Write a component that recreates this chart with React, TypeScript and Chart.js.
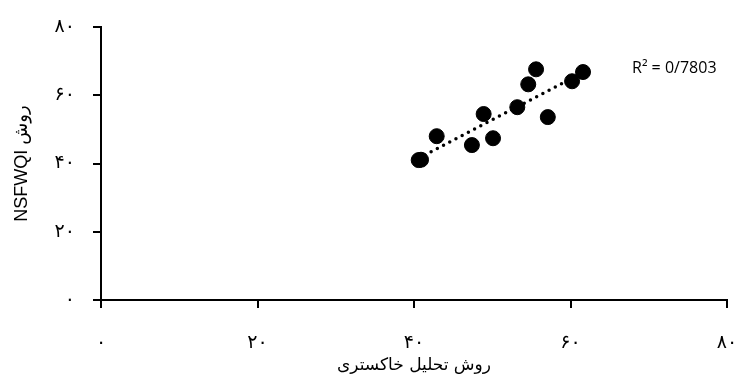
import React, { useEffect, useRef } from "react";
import { Chart, registerables } from "chart.js";

Chart.register(...registerables);

const xValues = [40.6, 40.9, 42.9, 47.4, 48.9, 50.1, 53.2, 54.6, 55.6, 57.1, 60.2, 61.6];
const yValues = [41.0, 41.1, 48.0, 45.4, 54.5, 47.4, 56.5, 63.2, 67.6, 53.6, 64.1, 66.8];
const tickValues = [0, 20, 40, 60, 80];
const persianTicks = ["۰", "۲۰", "۴۰", "۶۰", "۸۰"];
const xTitle = "روش تحلیل خاکستری";
const yTitle = "NSFWQI روش";
const r2Label = "R² = 0/7803";

function regression(xs: number[], ys: number[]) {
  const n = xs.length;
  const mx = xs.reduce((a, b) => a + b, 0) / n;
  const my = ys.reduce((a, b) => a + b, 0) / n;
  let sxy = 0, sxx = 0;
  for (let i = 0; i < n; i++) {
    sxy += (xs[i] - mx) * (ys[i] - my);
    sxx += (xs[i] - mx) ** 2;
  }
  const slope = sxy / sxx;
  return { slope, intercept: my - slope * mx };
}

export default function App() {
  const ref = useRef<HTMLCanvasElement>(null);
  useEffect(() => {
    if (!ref.current) return;
    const { slope, intercept } = regression(xValues, yValues);
    const minX = Math.min(...xValues);
    const maxX = Math.max(...xValues);
    const trend = [
      { x: minX, y: slope * minX + intercept },
      { x: maxX, y: slope * maxX + intercept },
    ];
    const points = xValues.map((x, i) => ({ x, y: yValues[i] }));
    const labelPlugin = {
      id: "r2label",
      afterDatasetsDraw(chart: any) {
        const xs = chart.scales.x;
        const ys = chart.scales.y;
        const lastIdx = xValues.indexOf(maxX);
        const px = xs.getPixelForValue(maxX) + 49;
        const py = ys.getPixelForValue(yValues[lastIdx]) - 4;
        const ctx = chart.ctx;
        ctx.save();
        ctx.fillStyle = "#000";
        ctx.font = "16px 'Open Sans', 'Liberation Sans', sans-serif";
        ctx.textAlign = "left";
        ctx.textBaseline = "middle";
        ctx.fillText(r2Label, px, py);
        ctx.restore();
      },
    };
    const tickFont = { family: "'DejaVu Serif', 'DejaVu Sans', serif", size: 19 };
    const zeroPad = (s: any) => {
      s.paddingLeft = 0;
      s.paddingRight = 0;
      s.paddingTop = 0;
      s.paddingBottom = 0;
    };
    const chart = new Chart(ref.current, {
      type: "scatter",
      data: {
        datasets: [
          {
            data: points,
            backgroundColor: "#000",
            borderColor: "#000",
            pointRadius: 7.5,
            pointHoverRadius: 7.5,
            order: 0,
          },
          {
            data: trend,
            showLine: true,
            borderColor: "#000",
            borderWidth: 3.5,
            borderDash: [0, 7],
            borderCapStyle: "round",
            pointRadius: 0,
            order: 1,
          } as any,
        ],
      },
      options: {
        animation: false,
        responsive: false,
        maintainAspectRatio: false,
        layout: { padding: { left: 0, top: 27, right: 10, bottom: 0 } },
        plugins: { legend: { display: false }, tooltip: { enabled: false } },
        scales: {
          x: {
            type: "linear",
            min: 0,
            max: 80,
            afterFit: (s: any) => { s.height = 78; zeroPad(s); },
            afterBuildTicks: (s: any) => { s.ticks = tickValues.map((v) => ({ value: v })); },
            ticks: {
              padding: 24,
              color: "#000",
              font: tickFont,
              maxRotation: 0,
              callback: (v: any) => persianTicks[tickValues.indexOf(Number(v))] ?? "",
            },
            grid: { display: true, drawOnChartArea: false, drawTicks: true, tickLength: 8, color: "#000", lineWidth: 2 },
            border: { display: true, color: "#000", width: 2 },
            title: {
              display: true,
              text: xTitle,
              color: "#000",
              font: { family: "'DejaVu Serif', 'DejaVu Sans', serif", size: 17 },
              padding: { top: 0, bottom: 2 },
            },
          },
          y: {
            type: "linear",
            min: 0,
            max: 80,
            afterFit: (s: any) => { s.width = 101; zeroPad(s); },
            afterBuildTicks: (s: any) => { s.ticks = tickValues.map((v) => ({ value: v })); },
            ticks: {
              padding: 18,
              color: "#000",
              font: tickFont,
              callback: (v: any) => persianTicks[tickValues.indexOf(Number(v))] ?? "",
            },
            grid: { display: true, drawOnChartArea: false, drawTicks: true, tickLength: 8, color: "#000", lineWidth: 2 },
            border: { display: true, color: "#000", width: 2 },
            title: {
              display: true,
              text: yTitle,
              color: "#000",
              font: { family: "'Liberation Sans', 'DejaVu Sans', sans-serif", size: 18 },
              padding: { top: 11, bottom: 0 },
            },
          },
        },
      },
      plugins: [labelPlugin],
    });
    return () => chart.destroy();
  }, []);
  return (
    <div style={{ position: "fixed", left: 0, top: 0, width: 737, height: 378, background: "#fff" }}>
      <canvas ref={ref} width={737} height={378} style={{ width: 737, height: 378 }} />
    </div>
  );
}
